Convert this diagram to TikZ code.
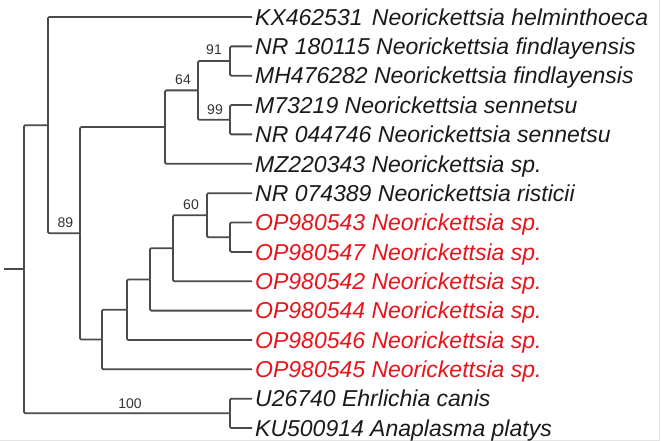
\documentclass[tikz,border=0pt]{standalone}
\usepackage{fontspec}
\setmainfont{Liberation Sans}
\usetikzlibrary{calc}
\definecolor{branchc}{HTML}{4A4A4A}
\definecolor{txtc}{HTML}{1A1A1A}
\definecolor{redc}{HTML}{E8141B}
\definecolor{bootc}{HTML}{333333}
\definecolor{framec}{HTML}{E4E4E4}
\tikzset{
  br/.style={draw=branchc, line width=1.8pt, line join=round, line cap=butt, rounded corners=1.2pt},
  leaf/.style={anchor=west, inner xsep=3pt, inner ysep=0pt, text height=16.5pt, text depth=0pt,
    font=\fontsize{23}{23}\selectfont\itshape, text=txtc},
  redleaf/.style={leaf, text=redc},
  boot/.style={anchor=center, inner sep=0pt, text height=10pt, text depth=0pt,
    font=\fontsize{14}{14}\selectfont, text=bootc}
}
\begin{document}
\begin{tikzpicture}[x=1pt,y=-1pt]
\useasboundingbox (0,0) rectangle (661,441);
\fill[white] (0,0) rectangle (661,441);
\draw[framec, line width=1pt] (659.5,0) -- (659.5,440) -- (0,440);
% leaves
\node[leaf]    (l1)  at (252,17.0)  {KX462531\hspace{3pt} Neorickettsia helminthoeca};
\node[leaf]    (l2)  at (252,46.4)  {NR 180115 Neorickettsia findlayensis};
\node[leaf]    (l3)  at (252,75.7)  {MH476282 Neorickettsia findlayensis};
\node[leaf]    (l4)  at (252,105.1) {M73219 Neorickettsia sennetsu};
\node[leaf]    (l5)  at (252,134.4) {NR 044746 Neorickettsia sennetsu};
\node[leaf]    (l6)  at (252,163.8) {MZ220343 Neorickettsia sp.};
\node[leaf]    (l7)  at (252,193.2) {NR 074389 Neorickettsia risticii};
\node[redleaf] (l8)  at (252,222.5) {OP980543 Neorickettsia sp.};
\node[redleaf] (l9)  at (252,251.9) {OP980547 Neorickettsia sp.};
\node[redleaf] (l10) at (252,281.2) {OP980542 Neorickettsia sp.};
\node[redleaf] (l11) at (252,310.6) {OP980544 Neorickettsia sp.};
\node[redleaf] (l12) at (252,340.0) {OP980546 Neorickettsia sp.};
\node[redleaf] (l13) at (252,369.3) {OP980545 Neorickettsia sp.};
\node[leaf]    (l14) at (252,398.7) {U26740 Ehrlichia canis};
\node[leaf]    (l15) at (252,428.0) {KU500914 Anaplasma platys};
% internal nodes
\coordinate (n91)  at (230,61.05);
\coordinate (n99)  at (230,119.75);
\coordinate (n64)  at (198,90.4);
\coordinate (n165) at (165,127.1);
\coordinate (n89s) at (230,237.2);
\coordinate (n60)  at (207,215.2);
\coordinate (n173) at (173,248.2);
\coordinate (n150) at (150,279.4);
\coordinate (n127) at (127,309.7);
\coordinate (n102) at (102,339.5);
\coordinate (n89)  at (80,233.3);
\coordinate (nA)   at (48,125.2);
\coordinate (nout) at (230,413.3);
\coordinate (root) at (24,269.3);
\coordinate (stub) at (4,269.3);
% branches
\draw[br] (n91) |- (l2.west);
\draw[br] (n91) |- (l3.west);
\draw[br] (n99) |- (l4.west);
\draw[br] (n99) |- (l5.west);
\draw[br] (n64) |- (n91);
\draw[br] (n64) |- (n99);
\draw[br] (n165) |- (n64);
\draw[br] (n165) |- (l6.west);
\draw[br] (n89s) |- (l8.west);
\draw[br] (n89s) |- (l9.west);
\draw[br] (n60) |- (l7.west);
\draw[br] (n60) |- (n89s);
\draw[br] (n173) |- (n60);
\draw[br] (n173) |- (l10.west);
\draw[br] (n150) |- (n173);
\draw[br] (n150) |- (l11.west);
\draw[br] (n127) |- (n150);
\draw[br] (n127) |- (l12.west);
\draw[br] (n102) |- (n127);
\draw[br] (n102) |- (l13.west);
\draw[br] (n89) |- (n165);
\draw[br] (n89) |- (n102);
\draw[br] (nA) |- (l1.west);
\draw[br] (nA) |- (n89);
\draw[br] (nout) |- (l14.west);
\draw[br] (nout) |- (l15.west);
\draw[br] (root) |- (nA);
\draw[br] (root) |- (nout);
\draw[br] (stub) -- (root);
% bootstrap values
\node[boot] (b91)  at (214,50)    {91};
\node[boot] (b64)  at (183,79.5)  {64};
\node[boot] (b99)  at (215,109.5) {99};
\node[boot] (b60)  at (191,204.5) {60};
\node[boot] (b89)  at (65.5,222.5){89};
\node[boot] (b100) at (130,403)   {100};
\end{tikzpicture}
\end{document}
